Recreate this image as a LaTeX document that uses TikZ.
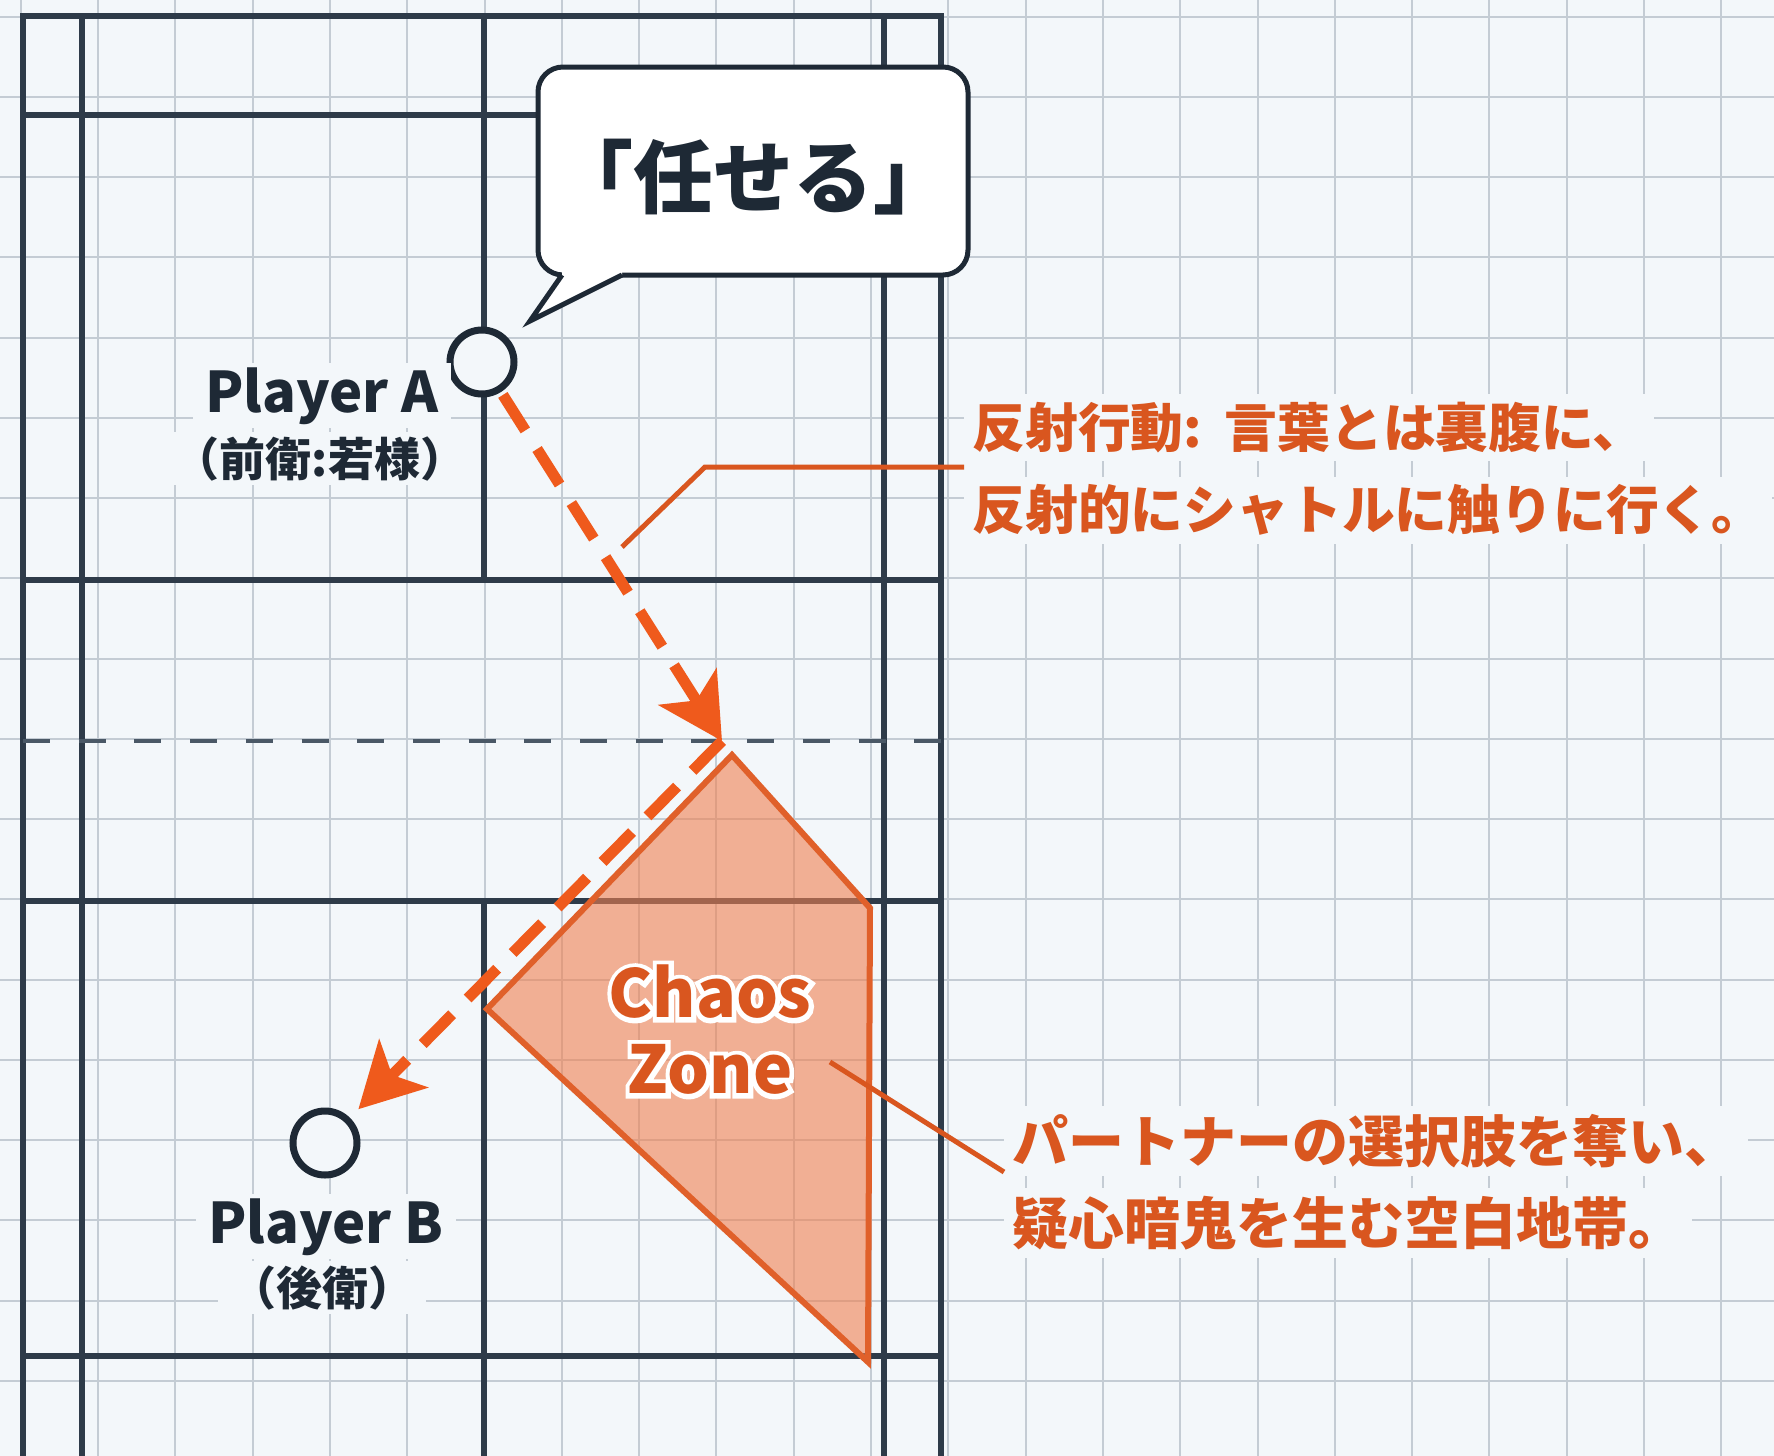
\documentclass[tikz,border=0pt]{standalone}
\usepackage{fontspec}
\setmainfont{Noto Sans CJK JP}
\newfontfamily\halofont{Noto Sans CJK JP}[BoldFeatures={FakeBold=14}]
\usetikzlibrary{arrows.meta}
\definecolor{bgc}{HTML}{F3F7FA}
\definecolor{gridc}{HTML}{C4CCD4}
\definecolor{courtc}{HTML}{2E3B49}
\definecolor{netc}{HTML}{4A5866}
\definecolor{arrowc}{HTML}{EF5A1C}
\definecolor{annc}{HTML}{D9561F}
\definecolor{zonefillc}{HTML}{F08050}
\definecolor{zonec}{HTML}{E0602A}
\definecolor{inkc}{HTML}{1E2935}
\newcommand\hlline[1]{{\setlength{\fboxsep}{4pt}\colorbox{bgc}{#1}}}
\lineskiplimit=-100pt
\begin{document}
\begin{tikzpicture}[x=0.5pt,y=-0.5pt,
  gridline/.style={gridc, line width=1pt},
  courtline/.style={courtc, line width=3pt},
  netline/.style={netc, line width=2pt, dash pattern=on 13.5pt off 14.35pt},
  zone/.style={fill=zonefillc, fill opacity=0.6, draw=zonec, line width=3pt, line join=miter},
  pcircle/.style={circle, draw=inkc, fill=bgc, line width=3.5pt, minimum size=32pt, inner sep=0pt},
  move/.style={arrowc, line width=5.5pt, dash pattern=on 21pt off 11pt, -{Stealth[length=32pt,width=34pt,inset=8pt]}},
  pname/.style={fill=bgc, inner xsep=6pt, inner ysep=2pt, text=inkc, font=\bfseries\fontsize{28pt}{30pt}\selectfont},
  prole/.style={fill=bgc, inner xsep=6pt, inner ysep=2pt, text=inkc, font=\bfseries\fontsize{23pt}{25pt}\selectfont},
  bubble/.style={draw=inkc, fill=white, line width=2.5pt, rounded corners=12.5pt, minimum width=215pt, minimum height=104pt, inner sep=0pt, text=inkc},
  saytext/.style={inner sep=0pt, text=inkc, font=\bfseries\fontsize{40pt}{44pt}\selectfont},
  leader/.style={annc, line width=2.5pt},
  ann/.style={align=left, inner sep=0pt, text=annc},
  chaos/.style={align=center, inner sep=0pt, text=annc, font=\bfseries\fontsize{33pt}{38pt}\selectfont},
  chaoshalo/.style={align=center, inner sep=0pt, text=white, font=\halofont\bfseries\fontsize{33pt}{38pt}\selectfont}
]
\useasboundingbox (0,0) rectangle (1774,1456);
\fill[bgc] (0,0) rectangle (1774,1456);
% grid
\foreach \i in {0,...,22} {\draw[gridline] ({20.7+77.3*\i},0) -- ({20.7+77.3*\i},1456);}
\foreach \j in {0,...,17} {\draw[gridline] (0,{16.5+80.25*\j}) -- (1774,{16.5+80.25*\j});}
% court
\draw[courtline, line join=miter] (23,1456) -- (23,16) -- (941,16) -- (941,1456);
\draw[courtline] (82,16) -- (82,1456);
\draw[courtline] (884,16) -- (884,1456);
\draw[courtline] (484,16) -- (484,580);
\draw[courtline] (484,901) -- (484,1456);
\draw[courtline] (23,115) -- (941,115);
\draw[courtline] (23,580) -- (941,580);
\draw[courtline] (23,901) -- (941,901);
\draw[courtline] (23,1356) -- (941,1356);
\draw[netline] (23,741) -- (941,741);
% chaos zone
\filldraw[zone] (732,755) -- (870,908) -- (868,1362) -- (487,1009) -- cycle;
% players and movement
\coordinate (hit) at (722,741);
\node[pcircle] (pA) at (482,362) {};
\node[pcircle] (pB) at (325,1143) {};
\draw[move, shorten <=1.75pt] (pA) -- (hit);
\draw[move, shorten >=6pt] (hit) -- (pB);
\node[pname, anchor=base] (pAname) at (322,412) {Player A};
\node[prole, anchor=base] (pArole) at (320,476) {（前衛:若様）};
\node[pname, anchor=base] (pBname) at (326,1243) {Player B};
\node[prole, anchor=base] (pBrole) at (322,1305) {（後衛）};
% speech bubble
\node[bubble] (say) at (753,171) {};
\node[saytext] (saytxt) at (753,177) {「任せる」};
\fill[white] (562,268) -- (562,275) -- (530,321) -- (622,275) -- (622,268) -- cycle;
\draw[inkc, line width=2.5pt, line join=miter] (562,275) -- (530,321) -- (622,275);
% annotations
\coordinate (l1s) at (622,547);
\coordinate (l1b) at (705,467);
\node[ann, anchor=west, font=\bfseries\fontsize{26.4pt}{41pt}\selectfont] (ann1) at (964,469) {\hlline{反射行動:\ \hspace{0.2em}言葉とは裏腹に、}\\\hlline{反射的にシャトルに触りに行く。}};
\draw[leader] (l1s) -- (l1b) -- ([yshift=1pt]ann1.west);
\coordinate (l2s) at (830,1062);
\node[ann, anchor=west, font=\bfseries\fontsize{28pt}{41pt}\selectfont] (ann2) at (1004,1182) {\hlline{パートナーの選択肢を奪い、}\\\hlline{疑心暗鬼を生む空白地帯。}};
\draw[leader] (l2s) -- ([yshift=5pt]ann2.west);
% chaos zone label with halo
\coordinate (czc) at (710,1030);
\node[chaoshalo] (czh) at (czc) {Chaos\\Zone};
\node[chaos] (cz) at (czc) {Chaos\\Zone};
\end{tikzpicture}
\end{document}
